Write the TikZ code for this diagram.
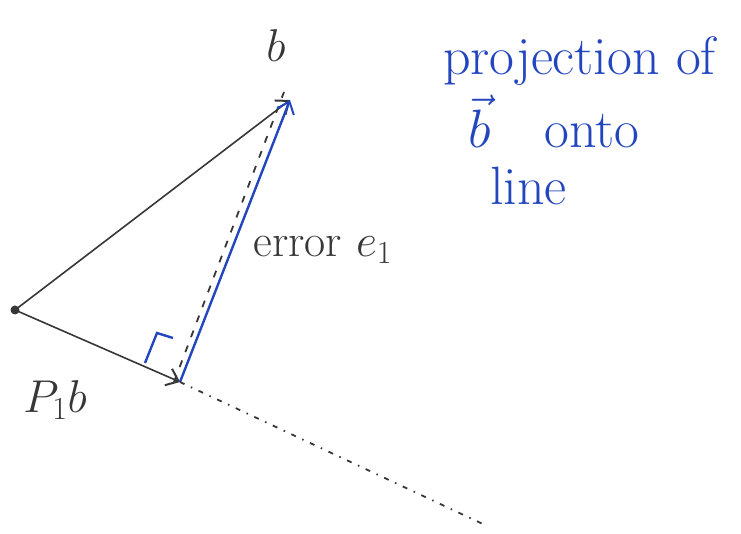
\RequirePackage{fix-cm}
\documentclass[tikz,border=0pt]{standalone}
\usepackage{amsmath,amssymb}
\usepackage{tikz}
\usetikzlibrary{arrows.meta,positioning}

\definecolor{penblue}{RGB}{35,70,190}
\definecolor{pengray}{RGB}{55,55,55}

\begin{document}
\begin{tikzpicture}[
  x=1pt, y=-1pt,
  >={Straight Barb[length=11pt,width=18pt,line width=2pt]},
  every node/.style={font=\fontsize{46}{50}\selectfont, text=pengray},
  vec/.style={->, draw=pengray, line width=1.6pt},
  errvec/.style={->, draw=penblue, line width=2.4pt},
  note/.style={text=penblue, anchor=base west, inner sep=0pt, font=\fontsize{54}{60}\selectfont}
]
\useasboundingbox (0,0) rectangle (741,534);
% points of the sketch
\coordinate (O) at (15,310);
\coordinate (B) at (290,100);
\coordinate (P) at (180,382);
\coordinate (L) at (485,525);
\fill[pengray] (O) circle (4.5pt);
\draw[vec] (O) -- (B);
\draw[vec] (O) -- (P);
\draw[pengray, line width=1.8pt, dash pattern=on 7pt off 9pt] ([xshift=-6pt]P) -- ([xshift=-6pt,yshift=8pt]B);
\draw[errvec] (P) -- (B);
\draw[pengray, line width=1.8pt, dash pattern=on 5pt off 7pt on 1.5pt off 7pt] (P) -- (L);
% right angle mark
\draw[penblue, line width=2.4pt] (145,363) -- (157,333) -- (173,338);
\node (blabel) at (276,46) {$b$};
\node[right] (err) at (250,250) {error $e_{1}$};
\node (pb) at (55,400) {$P_{1}b$};
% note on the right
\node[note] (proj1) at (443,75) {projection of};
\node[note] (proj2) at (468,148) {$\vec{b}$\quad onto};
\node[note] (proj3) at (490,205) {line};
\end{tikzpicture}
\end{document}
